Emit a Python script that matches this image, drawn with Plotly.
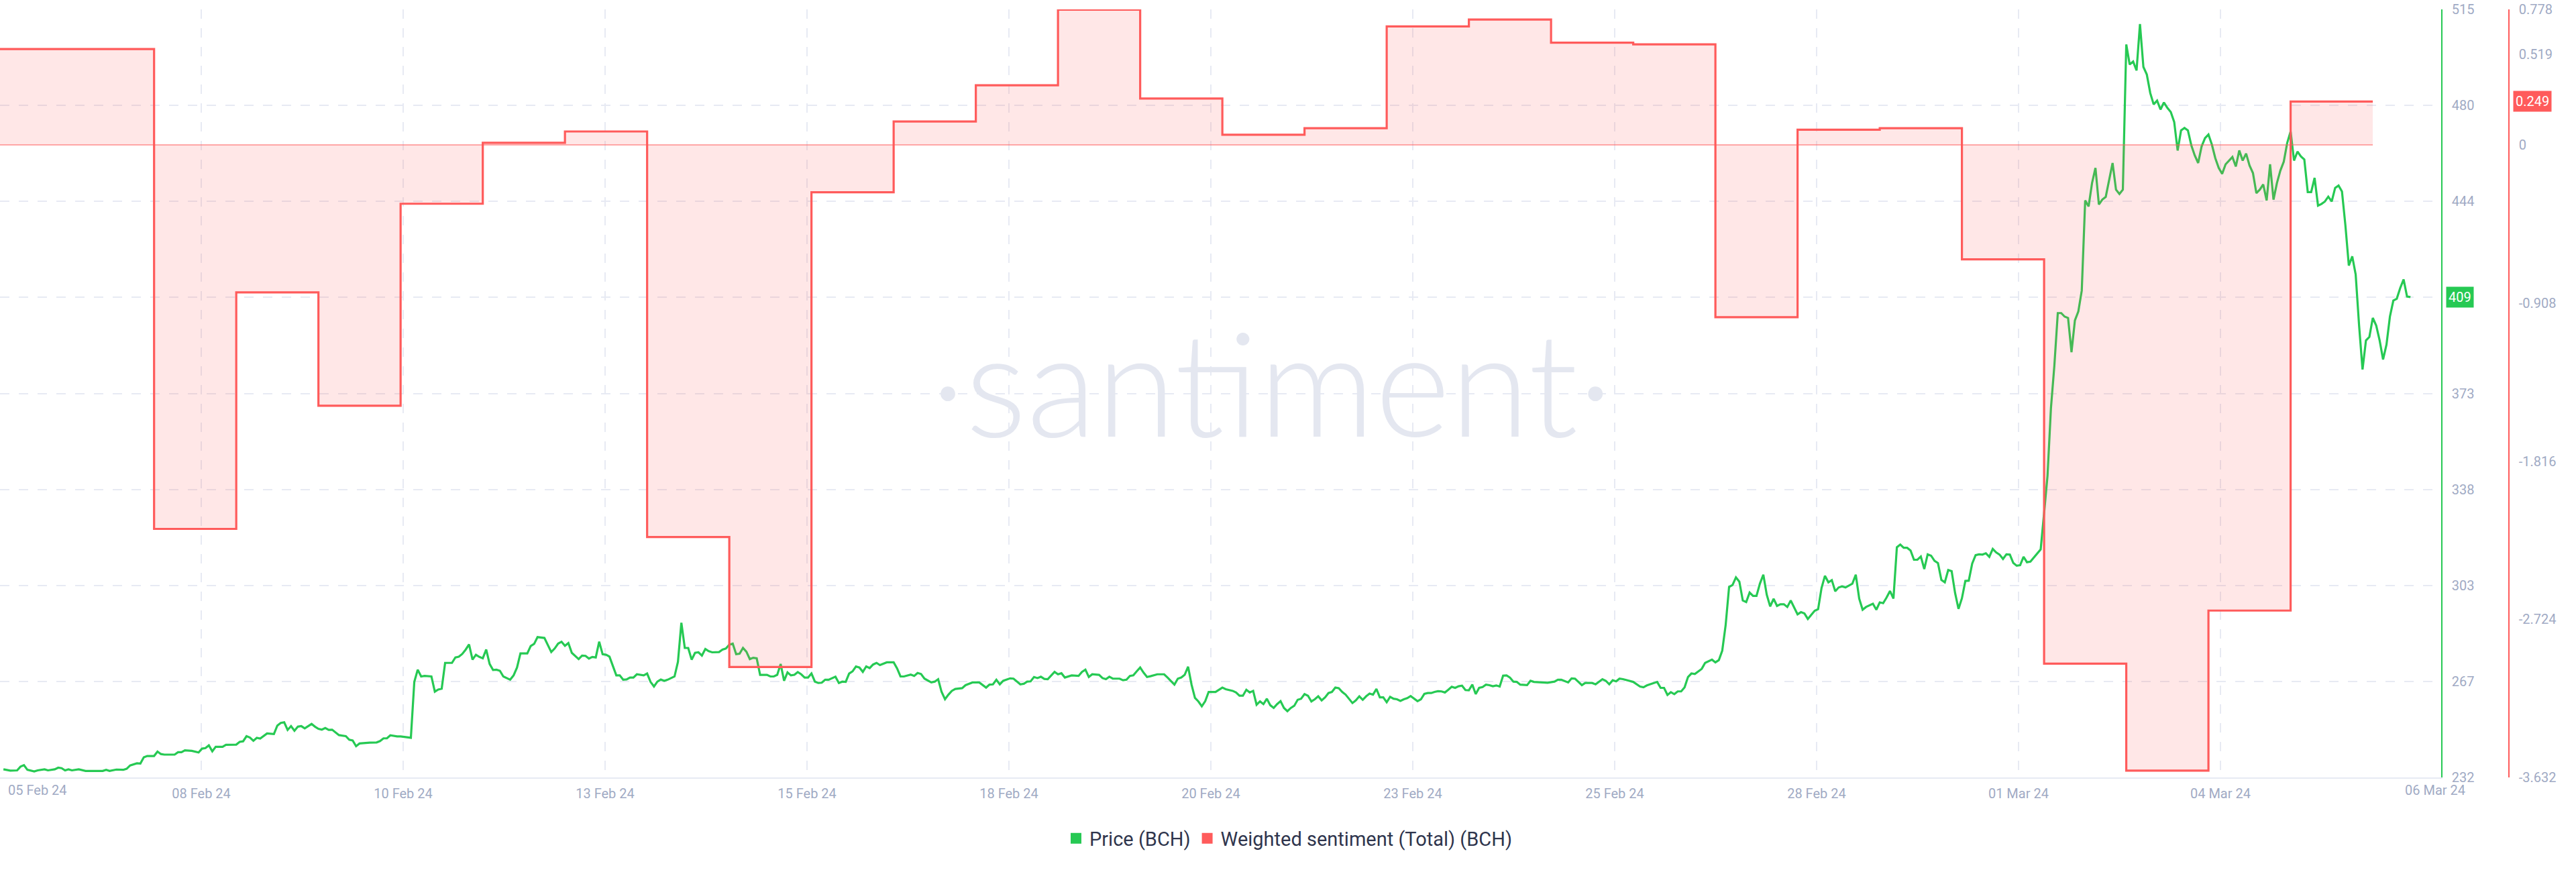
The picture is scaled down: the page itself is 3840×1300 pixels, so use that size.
import plotly.graph_objects as go
import pandas as pd

# ---------------- data ----------------
START = pd.Timestamp("2024-02-06 00:00")     # left edge of the time axis
END = pd.Timestamp("2024-03-06 16:58")       # right edge of the time axis

# BCH price: (hours after START, price USD)
PRICE_POINTS = [
    (1,235.0),(3,234.5),(5,234.6),(6,236.0),(7,236.5),(8,234.8),(10,234.2),(11,234.6),(13,235.0),(14,234.6),
    (16,235.0),(17,235.6),(18,235.4),(19,234.6),(20,235.0),(21,234.6),(23,235.0),(25,234.4),(30,234.4),(31,234.8),
    (32,234.4),(34,234.9),(36,234.8),(37,235.2),(38,236.4),(40,237.2),(41,237.1),(42,239.4),(43,239.9),(45,239.9),
    (46,241.5),(47,240.6),(48,240.4),(51,240.4),(52,241.3),(53,241.3),(54,242.0),(56,241.8),(58,241.2),(59,242.6),
    (60,242.8),(61,243.8),(62,241.6),(63,243.3),(65,243.3),(66,244.0),(69,244.1),(70,245.1),(71,245.3),(72,247.2),
    (73,246.7),(74,245.5),(75,246.6),(76,246.3),(78,248.2),(80,248.0),(81,251.1),(82,252.1),(83,252.3),(84,249.5),
    (85,250.9),(86,249.2),(87,250.7),(88,250.9),(89,250.1),(91,251.7),(92,250.7),(93,249.9),(94,249.6),(95,250.2),
    (96,249.5),(97,249.6),(99,247.6),(101,247.2),(102,245.9),(103,245.6),(104,243.5),(105,244.5),(108,244.8),(110,244.9),
    (111,245.4),(112,246.4),(113,246.4),(114,247.5),(116,247.1),(117,247.1),
    (120,246.6),(121,267.2),(122,271.7),(123,269.2),(124,269.4),(126,269.2),(127,263.6),(128,264.4),(129,264.7),(130,274.2),
    (132,274.2),(133,276.2),(134,276.5),(135,277.5),(136,279.1),(137,281.0),(138,275.4),(139,277.2),(140,276.4),(141,275.9),
    (142,279.1),(143,273.8),(144,271.6),(145,271.7),(146,271.3),(147,269.2),(149,268.0),(150,269.6),(151,272.5),(152,277.7),
    (154,277.7),(155,280.4),(156,281.2),(157,283.7),(159,283.4),(161,278.2),(162,279.5),(163,281.3),(164,282.0),(165,280.5),
    (166,281.5),(167,277.9),(169,275.6),(170,276.9),(171,276.8),(172,275.8),(173,276.4),(174,276.2),(175,282.0),(176,277.4),
    (177,277.2),(178,276.5),(180,269.6),(181,269.6),(182,268.0),(183,268.1),(184,268.8),(185,268.8),(186,270.0),(188,269.6),
    (189,270.3),(190,267.2),(191,265.5),(192,267.3),(193,268.1),(194,267.6),(195,268.0),(197,269.2),(198,274.6),(199,289.0),
    (200,279.7),(201,279.7),(202,275.4),(203,277.9),(204,278.1),(205,276.9),(206,279.3),(207,278.5),(208,278.1),(210,278.2),
    (211,279.1),(212,279.5),(213,280.9),(214,281.3),(215,277.4),(216,277.6),(217,279.7),(218,278.3),(219,275.6),(220,276.1),
    (221,275.9),(222,269.8),(224,269.8),(225,269.2),(226,269.2),(227,269.8),(228,273.8),(229,267.6),(230,270.7),(231,269.6),
    (232,269.8),(233,270.8),(234,270.0),(235,268.8),(236,268.8),
    (237,270.3),(238,267.3),(239,266.8),(240,266.9),(241,268.0),(242,268.0),(243,268.6),(244,269.1),(245,266.8),(246,267.3),
    (247,267.2),(248,270.3),(249,271.1),(250,272.9),(251,272.5),(252,270.9),(253,272.9),(254,272.3),(255,273.6),(256,274.2),
    (257,273.4),(259,274.4),(261,274.4),(262,272.2),(263,269.2),(264,269.2),(266,269.9),(267,269.4),(268,270.5),(269,270.1),
    (270,268.4),(272,267.0),(273,267.3),(274,268.2),(275,263.5),(276,260.8),(277,262.5),(278,263.9),(279,264.6),(281,264.9),
    (282,266.0),(284,267.0),(286,267.0),(288,265.1),(289,266.2),(290,266.3),(291,268.0),(292,266.3),(293,267.6),(294,268.0),
    (295,268.5),(296,268.4),(298,266.3),(299,266.5),(300,267.3),(301,267.4),(302,269.0),(303,268.6),(304,269.1),(305,268.3),
    (306,268.2),(308,270.9),(309,270.0),(310,270.4),(311,268.8),(313,269.6),(315,269.4),(316,270.9),(317,271.7),(318,269.0),
    (319,270.0),(321,269.8),(322,268.6),(323,268.2),(324,269.1),(325,268.4),(327,268.4),(328,267.8),(329,268.0),(330,269.4),
    (331,269.6),(332,271.1),(333,272.5),(334,270.6),(335,269.0),(336,269.3),(337,269.6),(338,270.0),(339,270.0),(340,270.0),
    (341,268.8),(343,266.2),(344,268.4),(345,268.8),(346,269.8),(347,272.8),(348,266.2),(349,261.3),(350,260.0),(351,258.2),
    (352,260.1),(353,263.5),(355,263.5),
    (357,265.1),(358,264.5),(360,263.9),(361,263.3),(362,262.1),(363,262.1),(364,264.3),(365,263.3),(366,263.9),(367,258.8),
    (368,260.0),(369,259.0),(370,261.0),(371,258.6),(372,257.6),(373,259.0),(374,260.1),(375,257.6),(376,256.4),(377,257.6),
    (378,258.4),(379,260.6),(380,261.0),(381,262.7),(382,262.1),(383,260.0),(384,260.8),(385,261.9),(386,260.4),(387,261.5),
    (388,263.1),(389,263.5),(390,265.1),(391,264.9),(392,263.5),(393,262.5),(395,259.4),(396,260.4),(397,261.9),(398,260.6),
    (399,261.9),(400,262.9),(401,262.5),(402,264.6),(403,261.5),(404,261.5),(405,259.7),(406,261.7),(407,261.0),(408,260.8),
    (409,260.2),(410,260.8),(411,261.2),(412,262.0),(413,261.0),(414,260.1),(415,260.8),(416,262.8),(417,263.1),(418,263.1),
    (419,263.5),(420,263.8),(421,263.7),(422,263.3),(423,264.3),(424,265.4),(425,265.0),(426,265.6),(427,265.8),(428,264.2),
    (429,264.1),(430,266.2),(431,262.7),(432,265.0),(433,265.3),(434,266.2),(435,266.0),(436,265.6),(437,265.9),(438,265.5),
    (439,269.5),(440,269.6),(441,268.8),(442,267.3),(443,267.2),(444,266.2),(446,266.0),(447,267.6),(448,267.2),(450,267.0),
    (452,266.9),(454,267.3),(455,268.0),(456,268.0),(458,267.0),(459,268.5),(460,268.4),(462,266.0),(463,266.8),(465,266.8),
    (466,266.3),(468,268.2),(469,267.6),(470,266.3),(471,267.8),(472,267.4),
    (473,268.4),(474,268.2),(476,267.6),(477,267.2),(479,265.5),(480,265.2),(481,265.9),(482,266.4),(484,267.2),(485,265.0),
    (486,265.0),(487,262.4),(488,263.4),(489,262.7),(490,263.7),(491,263.7),(492,265.2),(493,269.0),(494,270.3),(495,270.1),
    (497,272.0),(498,274.2),(500,275.4),(501,274.4),(502,275.2),(503,278.7),(504,288.2),(505,302.2),(506,302.9),(507,305.7),
    (508,304.1),(509,297.2),(510,296.6),(511,300.1),(512,298.9),(513,298.9),(514,303.4),(515,306.7),(516,299.3),(517,295.0),
    (518,297.8),(519,295.2),(520,295.8),(521,295.8),(522,294.8),(523,297.2),(524,294.6),(525,292.1),(526,292.9),(527,292.4),
    (528,290.4),(530,293.4),(531,294.0),(532,301.8),(533,306.3),(534,303.9),(535,304.7),(536,300.6),(537,302.0),(538,302.4),
    (539,302.0),(541,303.4),(542,306.7),(543,297.9),(544,293.8),(545,294.8),(547,296.0),(548,293.8),(549,296.5),(550,296.2),
    (551,298.3),(552,300.7),(553,297.9),(554,316.8),(555,317.8),(556,316.6),(557,316.6),(558,315.6),(559,312.2),(560,312.2),
    (561,313.4),(562,308.8),(563,314.2),(564,313.7),(565,311.8),(566,311.0),(567,304.8),(568,303.9),(569,308.4),(570,308.0),
    (571,300.0),(572,294.1),(573,298.0),(574,304.4),(575,304.5),(576,310.8),(577,313.9),(578,314.2),(579,314.1),(580,314.6),
    (581,313.3),(582,316.2),(583,314.9),(584,314.1),(585,312.5),(586,314.2),(587,314.1),(588,311.0),(589,310.0),(590,310.2),
    (591,313.3),(592,311.3),
    (593,311.5),(594,313.0),(595,314.7),(596,316.0),(597,329.4),(598,343.2),(599,368.1),(600,383.8),(601,403.1),(602,403.1),
    (603,401.8),(604,401.3),(605,388.7),(606,400.4),(607,403.7),(608,411.4),(609,444.6),(610,442.4),(611,451.0),(612,456.6),
    (613,443.1),(614,444.9),(615,445.9),(616,452.3),(617,458.4),(618,448.6),(619,447.0),(620,448.6),(621,502.1),(622,494.7),
    (623,495.8),(624,492.5),(625,509.6),(626,493.8),(627,491.0),(628,484.2),(629,480.0),(630,481.4),(631,478.1),(632,480.7),
    (633,478.7),(634,477.2),(635,473.5),(636,463.0),(637,470.4),(638,471.3),(639,470.4),(640,464.9),(641,461.2),(642,458.4),
    (643,464.5),(644,467.6),(645,468.9),(646,465.2),(647,460.2),(648,456.6),(649,454.4),(650,457.9),(651,459.3),(652,460.6),
    (653,457.1),(654,463.0),(655,459.3),(656,461.9),(657,457.5),(658,454.7),(659,447.3),(660,448.6),(661,450.5),(662,444.6),
    (663,457.9),(664,444.9),(665,451.0),(666,455.6),(667,458.9),(668,465.8),(669,470.0),(670,459.3),(671,462.6),(672,460.8),
    (673,459.7),(674,447.7),(675,447.7),(676,452.9),(677,442.7),(678,443.3),(679,444.2),(680,446.0),(681,444.2),(682,449.2),
    (683,450.1),(684,447.9),(685,435.4),(686,420.6),(687,424.0),(688,417.3),(689,398.5),(690,382.3),(691,393.0),(692,394.3),
    (693,401.3),(694,398.5),(695,393.0),(696,386.0),(697,391.5),(698,401.8),(699,407.7),(700,408.4),(701,412.3),(702,415.5),
    (703,409.2),(704,409.0),
]
price_hours = [h for h, _ in PRICE_POINTS]
price_values = [v for _, v in PRICE_POINTS]

# Weighted sentiment (daily steps); last entry closes the final step
SENT_DATES = [
    "2024-02-06 00:00", "2024-02-07 21:00", "2024-02-08 21:00", "2024-02-09 21:00", "2024-02-10 21:00",
    "2024-02-11 21:00", "2024-02-12 21:00", "2024-02-13 21:00", "2024-02-14 21:00", "2024-02-15 21:00",
    "2024-02-16 21:00", "2024-02-17 21:00", "2024-02-18 21:00", "2024-02-19 21:00", "2024-02-20 21:00",
    "2024-02-21 21:00", "2024-02-22 21:00", "2024-02-23 21:00", "2024-02-24 21:00", "2024-02-25 21:00",
    "2024-02-26 21:00", "2024-02-27 21:00", "2024-02-28 21:00", "2024-02-29 21:00", "2024-03-01 21:00",
    "2024-03-02 21:00", "2024-03-03 21:00", "2024-03-04 21:00", "2024-03-05 21:00",
]
SENT_VALUES = [
    0.550, -2.205, -0.847, -1.498, -0.338,
    0.012, 0.077, -2.252, -2.998, -0.272,
    0.134, 0.342, 0.776, 0.266, 0.058,
    0.096, 0.680, 0.720, 0.587, 0.577,
    -0.989, 0.087, 0.096, -0.657, -2.979,
    -3.593, -2.674, 0.249, 0.249,
]

# axis ticks
X_TICK_VALS = ["2024-02-08 10:47", "2024-02-10 21:45", "2024-02-13 08:43", "2024-02-15 19:42",
               "2024-02-18 06:40", "2024-02-20 17:38", "2024-02-23 04:36", "2024-02-25 15:35",
               "2024-02-28 02:33", "2024-03-01 13:31", "2024-03-04 00:30"]
X_TICK_TEXT = ["08 Feb 24", "10 Feb 24", "13 Feb 24", "15 Feb 24", "18 Feb 24", "20 Feb 24",
               "23 Feb 24", "25 Feb 24", "28 Feb 24", "01 Mar 24", "04 Mar 24"]
X_START_LABEL = "05 Feb 24"
X_END_LABEL = "06 Mar 24"
X_END_LABEL_AT = "2024-03-06 15:12"

PRICE_RANGE = [232, 515]
PRICE_TICK_VALS = [232, 267.375, 302.75, 338.125, 373.5, 408.875, 444.25, 479.625, 515]
PRICE_TICK_TEXT = ["232", "267", "303", "338", "373", "", "444", "480", "515"]

SENT_RANGE = [-3.632, 0.778]
SENT_TICK_VALS = [-3.632, -2.724, -1.816, -0.908, 0, 0.519, 0.778]
SENT_TICK_TEXT = ["-3.632", "-2.724", "-1.816", "-0.908", "0", "0.519", "0.778"]

# ---------------- styling ----------------
GREEN = "#26C953"
RED = "#FF5B5B"
GRID = "#E7EAF3"
TICK = "#9FAAC4"
FONT = "Roboto"

W, H = 3840, 1300
ML, MR, MT, MB = 0, 100, 14, 141
PLOT_RIGHT = 3639
PLOT_BOTTOM = H - MB
paper_w = W - ML - MR
paper_h = H - MT - MB
x_dom_end = PLOT_RIGHT / paper_w

price_times = [START + pd.Timedelta(hours=h) for h in price_hours]
sent_times = pd.to_datetime(SENT_DATES)

fig = go.Figure()

fig.add_trace(go.Scatter(
    x=price_times, y=price_values, mode="lines", yaxis="y",
    line=dict(color=GREEN, width=3.2), showlegend=False, hoverinfo="skip"))

fig.add_trace(go.Scatter(
    x=sent_times, y=SENT_VALUES, mode="lines", yaxis="y2",
    line=dict(color=RED, width=3.2, shape="hv"),
    fill="tozeroy", fillcolor="rgba(255,91,91,0.15)",
    showlegend=False, hoverinfo="skip"))

fig.add_trace(go.Scatter(
    x=[sent_times[0], sent_times[-1]], y=[0, 0], mode="lines", yaxis="y2",
    line=dict(color=RED, width=1.2), showlegend=False, hoverinfo="skip"))

# legend entries (square swatches)
fig.add_trace(go.Scatter(x=[None], y=[None], mode="markers", name="Price (BCH)",
                         marker=dict(symbol="square", size=16, color=GREEN)))
fig.add_trace(go.Scatter(x=[None], y=[None], mode="markers", name="Weighted sentiment (Total) (BCH)",
                         marker=dict(symbol="square", size=16, color=RED)))

fig.update_layout(
    width=W, height=H,
    margin=dict(l=ML, r=MR, t=MT, b=MB, autoexpand=False),
    paper_bgcolor="white", plot_bgcolor="white",
    font=dict(family=FONT, color=TICK, size=20),
    legend=dict(orientation="h", x=1922 / paper_w, xanchor="center",
                y=(PLOT_BOTTOM - 1250) / paper_h, yanchor="middle",
                font=dict(size=29, color="#2F354D"), itemwidth=30,
                bgcolor="rgba(0,0,0,0)"),
    xaxis=dict(
        type="date", range=[START, END], domain=[0, x_dom_end],
        tickvals=X_TICK_VALS, ticktext=X_TICK_TEXT,
        showgrid=True, gridcolor=GRID, gridwidth=1.5, griddash="14px,14px",
        showline=True, linecolor=GRID, linewidth=2, zeroline=False,
        ticks="", tickfont=dict(size=20, color=TICK), ticklabelstandoff=5,
    ),
    yaxis=dict(
        side="right", anchor="x", range=PRICE_RANGE,
        tickvals=PRICE_TICK_VALS, ticktext=PRICE_TICK_TEXT,
        showgrid=True, gridcolor=GRID, gridwidth=1.5, griddash="14px,14px",
        showline=True, linecolor=GREEN, linewidth=1.5, zeroline=False,
        ticks="", tickfont=dict(size=20, color=TICK), ticklabelstandoff=10,
    ),
    yaxis2=dict(
        overlaying="y", side="right", anchor="free", position=1,
        range=SENT_RANGE, tickvals=SENT_TICK_VALS, ticktext=SENT_TICK_TEXT,
        showgrid=False, showline=True, linecolor=RED, linewidth=1.5, zeroline=False,
        ticks="", tickfont=dict(size=20, color=TICK), ticklabelstandoff=10,
    ),
)

annotations = [
    # watermark
    dict(text="·santiment·", xref="paper", yref="paper", x=1895 / paper_w, y=(PLOT_BOTTOM - 568) / paper_h,
         xanchor="center", yanchor="middle", showarrow=False,
         font=dict(family="Lato", size=215, color="#E4E7F0", weight=300)),
    # boundary date labels
    dict(text=X_START_LABEL, xref="paper", yref="paper", x=0, y=0, xanchor="left", yanchor="top",
         xshift=10, yshift=-5, showarrow=False, font=dict(size=20, color=TICK)),
    dict(text=X_END_LABEL, xref="x", yref="paper", x=X_END_LABEL_AT, y=0, xanchor="center", yanchor="top",
         yshift=-5, showarrow=False, font=dict(size=20, color=TICK)),
    # last value badges
    dict(text=f"{round(price_values[-1])}", xref="paper", yref="y", x=x_dom_end, y=price_values[-1],
         xanchor="left", yanchor="middle", xshift=7, showarrow=False, bgcolor=GREEN, borderpad=3,
         font=dict(size=20, color="white")),
    dict(text=f"{SENT_VALUES[-1]:.3f}", xref="paper", yref="y2", x=1, y=SENT_VALUES[-1],
         xanchor="left", yanchor="middle", xshift=6, showarrow=False, bgcolor=RED, borderpad=3,
         font=dict(size=20, color="white")),
]
fig.update_layout(annotations=annotations)

fig.write_html("out.html", config={"displayModeBar": False},
               post_script="document.body.style.margin='0';")
